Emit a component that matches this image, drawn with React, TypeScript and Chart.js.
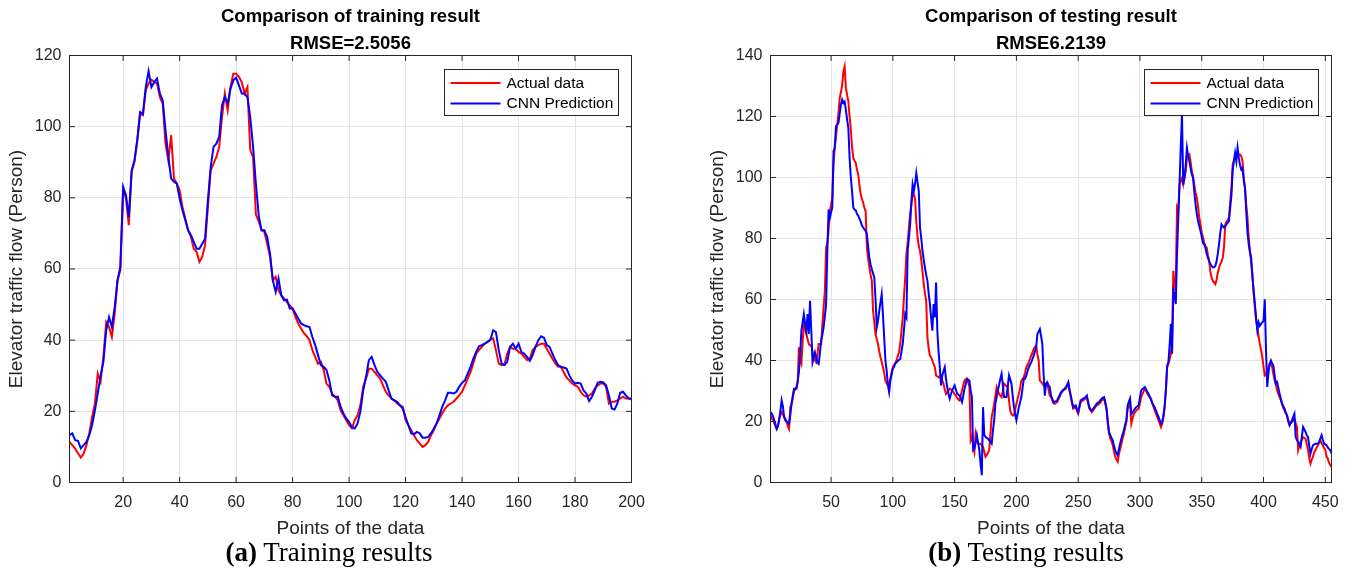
import React, { useEffect, useRef } from 'react';
import { Chart, registerables } from 'chart.js';

Chart.register(...registerables);

// ---------------- DATA ----------------
const seriesLabels = ['Actual data', 'CNN Prediction'];
const seriesColors = ['#ff0000', '#0000ff'];

const trainTitle = ['Comparison of training result', 'RMSE=2.5056'];
const testTitle = ['Comparison of testing result', 'RMSE6.2139'];
const xAxisTitle = 'Points of the data';
const yAxisTitle = 'Elevator traffic flow (Person)';

const trainXTicks = [20, 40, 60, 80, 100, 120, 140, 160, 180, 200];
const trainYTicks = [0, 20, 40, 60, 80, 100, 120];
const testXTicks = [50, 100, 150, 200, 250, 300, 350, 400, 450];
const testYTicks = [0, 20, 40, 60, 80, 100, 120, 140];

const trainActual = [
  11.4, 10.5, 9.5, 8.2, 7.0, 8.1, 10.5, 13.8, 18.4, 22.2,
  30.6, 28.3, 35.3, 45.1, 43.7, 40.9, 47.5, 56.8, 59.6, 82.1,
  79.8, 72.3, 87.3, 90.1, 96.2, 103.6, 103.2, 110.2, 112.1, 113.2,
  112.6, 112.1, 108.3, 106.5, 95.2, 90.5, 97.6, 85.4, 84.0, 82.1,
  77.4, 74.2, 70.9, 69.0, 65.7, 64.8, 62.0, 63.4, 66.7, 77.4,
  87.7, 89.6, 91.5, 94.3, 102.7, 109.3, 104.6, 111.1, 114.9, 114.9,
  114.0, 112.5, 109.3, 111.1, 93.4, 91.5, 75.3, 73.4, 70.9, 70.4,
  67.1, 63.4, 56.8, 57.8, 54.0, 52.6, 51.7, 50.7, 49.8, 48.9,
  46.5, 44.7, 43.3, 42.0, 41.1, 40.0, 37.2, 35.3, 33.4, 33.9,
  31.6, 27.8, 26.9, 25.0, 24.1, 23.1, 20.3, 18.9, 17.5, 16.1,
  15.2, 17.5, 18.9, 21.7, 26.9, 29.2, 32.0, 32.0, 31.1, 30.1,
  29.2, 27.3, 25.5, 24.5, 23.6, 23.1, 22.2, 21.7, 21.3, 17.5,
  16.1, 14.7, 13.3, 11.9, 11.0, 10.0, 10.5, 11.4, 13.3, 14.7,
  16.6, 18.0, 19.5, 20.8, 21.7, 22.2, 22.7, 23.6, 24.5, 25.5,
  27.3, 29.2, 31.0, 33.5, 36.2, 37.2, 38.1, 39.0, 39.5, 40.2,
  40.5, 37.2, 33.4, 33.0, 33.0, 36.2, 38.1, 37.6, 37.6, 36.7,
  36.2, 35.3, 34.4, 34.8, 37.2, 38.1, 38.6, 39.0, 39.0, 37.6,
  36.2, 34.8, 33.5, 32.5, 32.5, 31.0, 29.5, 28.7, 27.8, 27.3,
  26.9, 25.5, 24.5, 24.1, 24.5, 25.0, 26.4, 27.3, 27.8, 27.8,
  26.9, 22.2, 22.7, 22.7, 23.1, 23.6, 24.1, 23.6, 23.6, 23.3,
];

const trainPred = [
  13.3, 13.8, 11.9, 11.7, 9.6, 10.5, 11.4, 13.3, 16.1, 20.3,
  25.0, 30.1, 33.9, 42.8, 46.5, 43.7, 49.3, 56.8, 60.6, 83.1,
  80.7, 74.6, 87.7, 90.5, 96.2, 104.1, 103.6, 111.1, 115.6, 111.1,
  112.5, 113.5, 109.3, 107.4, 99.0, 91.5, 85.4, 84.5, 84.0, 79.8,
  76.5, 73.7, 70.9, 69.5, 67.6, 65.7, 65.7, 67.1, 68.5, 79.3,
  88.7, 94.3, 95.2, 97.1, 106.0, 108.3, 106.5, 110.7, 113.0, 113.8,
  111.6, 109.3, 109.3, 108.3, 102.7, 94.3, 84.0, 75.0, 70.9, 70.9,
  69.0, 64.3, 56.8, 53.6, 57.3, 52.6, 51.2, 51.4, 48.9, 48.9,
  47.5, 46.1, 44.7, 44.2, 43.9, 43.7, 40.9, 38.6, 35.8, 33.0,
  32.5, 31.6, 28.7, 24.5, 24.1, 24.1, 21.3, 19.4, 18.0, 17.0,
  15.6, 15.2, 16.6, 19.9, 25.9, 29.7, 34.4, 35.3, 33.0, 31.1,
  30.1, 29.2, 28.3, 25.9, 23.6, 23.1, 22.7, 21.7, 20.8, 18.4,
  16.1, 13.8, 13.6, 14.2, 13.8, 12.6, 12.6, 12.8, 13.8, 15.2,
  16.6, 18.9, 21.3, 23.1, 25.2, 25.2, 25.0, 25.5, 26.9, 28.0,
  28.7, 30.6, 32.5, 34.8, 36.7, 38.3, 38.6, 39.0, 39.5, 40.0,
  42.8, 42.3, 37.2, 33.4, 33.0, 33.9, 38.1, 39.0, 37.6, 39.0,
  36.7, 36.2, 35.3, 34.2, 35.8, 38.1, 40.0, 41.1, 40.7, 38.6,
  38.1, 36.2, 34.4, 33.0, 32.5, 32.3, 32.0, 30.1, 28.7, 27.8,
  28.0, 27.8, 25.9, 25.0, 22.9, 24.1, 25.9, 28.0, 28.3, 28.1,
  27.3, 24.5, 20.8, 20.5, 22.2, 25.2, 25.5, 24.5, 23.6, 23.6,
];

const testActual = [
  22.0, 21.0, 20.4, 19.5, 18.5, 17.6, 18.5, 21.0, 22.0, 23.1,
  22.5, 21.5, 20.9, 20.0, 18.5, 17.6, 24.7, 25.5, 27.5, 29.8,
  30.5, 31.3, 33.0, 44.3, 40.0, 38.9, 46.0, 52.0, 50.5, 48.7,
  47.0, 45.4, 45.0, 44.9, 43.0, 41.1, 40.0, 39.4, 42.0, 45.4,
  45.4, 45.4, 52.0, 57.4, 62.9, 77.0, 78.5, 82.5, 89.0, 91.0,
  93.4, 104.2, 109.7, 113.5, 117.3, 121.0, 126.0, 128.0, 130.4, 134.7,
  136.4, 129.3, 127.0, 125.0, 120.0, 115.7, 110.0, 106.4, 105.5, 104.8,
  102.5, 101.0, 97.5, 94.4, 93.0, 91.7, 90.0, 89.0, 77.0, 73.5,
  70.5, 68.0, 66.1, 56.3, 52.5, 48.7, 47.0, 45.4, 43.0, 41.1,
  39.5, 37.8, 36.0, 33.4, 32.5, 31.8, 32.8, 34.0, 36.0, 37.8,
  38.5, 39.2, 40.0, 41.5, 42.7, 45.5, 49.8, 54.0, 60.7, 67.0,
  74.8, 78.5, 83.6, 87.9, 91.0, 94.4, 94.4, 93.0, 85.5, 80.5,
  77.5, 75.9, 73.0, 69.4, 65.0, 62.0, 59.6, 47.6, 44.0, 41.6,
  41.0, 40.0, 38.9, 37.8, 35.1, 34.8, 34.5, 34.8, 35.1, 33.5,
  32.4, 30.5, 29.1, 29.5, 30.2, 30.7, 30.5, 30.2, 29.6, 29.0,
  28.5, 27.8, 27.2, 26.9, 28.5, 30.2, 32.0, 33.4, 33.8, 34.0,
  32.8, 31.3, 13.8, 14.9, 12.0, 10.0, 16.0, 14.0, 12.7, 12.7,
  12.7, 12.2, 11.7, 10.0, 8.4, 9.0, 9.8, 10.6, 16.0, 21.5,
  23.5, 25.8, 28.5, 31.3, 30.2, 29.1, 28.5, 28.0, 30.0, 32.4,
  32.0, 31.6, 31.3, 27.0, 23.5, 22.5, 22.0, 22.0, 24.0, 25.8,
  27.5, 29.1, 31.0, 33.4, 34.0, 34.5, 36.0, 37.8, 38.6, 39.4,
  40.5, 41.6, 42.7, 43.8, 44.5, 44.9, 42.0, 40.0, 33.4, 33.0,
  32.4, 31.8, 31.3, 31.8, 32.4, 30.5, 28.5, 28.0, 27.0, 26.0,
  25.8, 26.1, 26.4, 27.3, 28.2, 29.1, 29.7, 30.2, 30.5, 30.7,
  31.5, 32.4, 30.0, 28.0, 26.0, 24.2, 24.5, 24.7, 23.5, 22.5,
  24.5, 26.4, 26.7, 26.9, 27.2, 27.5, 28.0, 26.0, 24.2, 23.6,
  23.1, 23.6, 24.2, 24.8, 25.3, 25.5, 25.8, 26.3, 26.9, 27.2,
  27.5, 26.0, 23.6, 19.0, 16.0, 14.4, 13.5, 12.2, 10.0, 8.4,
  7.5, 6.8, 9.5, 11.0, 12.7, 14.5, 16.0, 18.0, 19.8, 24.2,
  25.0, 25.8, 19.3, 21.0, 22.5, 23.0, 23.6, 24.0, 24.2, 26.0,
  28.0, 29.0, 30.0, 30.7, 30.0, 29.1, 28.5, 28.0, 27.5, 26.0,
  24.7, 23.5, 22.5, 21.5, 20.4, 19.3, 18.2, 19.3, 21.5, 25.0,
  30.2, 37.8, 38.9, 40.5, 42.2, 46.5, 69.4, 63.0, 66.1, 90.1,
  89.0, 97.7, 99.0, 99.9, 97.7, 99.9, 102.0, 106.4, 107.0, 107.5,
  105.0, 102.0, 99.9, 97.5, 95.0, 93.4, 90.5, 86.8, 84.5, 82.0,
  80.3, 78.5, 77.5, 77.0, 74.5, 72.7, 69.0, 67.2, 66.0, 65.6,
  65.0, 66.5, 68.8, 70.5, 71.6, 72.5, 73.7, 77.0, 84.6, 85.5,
  86.0, 86.8, 92.0, 96.6, 104.2, 105.5, 106.4, 107.0, 107.5, 107.5,
  107.5, 107.0, 105.3, 100.0, 96.6, 91.0, 86.8, 80.5, 75.9, 72.0,
  68.3, 62.0, 57.4, 53.0, 50.9, 48.0, 45.4, 43.5, 41.1, 38.0,
  35.1, 35.5, 36.7, 38.0, 38.9, 38.5, 37.8, 35.5, 33.4, 32.0,
  30.2, 29.0, 28.0, 27.0, 25.8, 24.5, 23.6, 22.5, 22.0, 20.5,
  19.3, 19.5, 19.8, 20.3, 20.9, 19.5, 18.2, 10.6, 12.0, 13.3,
  14.0, 14.9, 14.6, 14.4, 12.5, 10.6, 8.0, 6.2, 7.5, 8.4,
  10.0, 10.6, 11.5, 12.2, 13.0, 13.8, 12.8, 12.2, 11.3, 10.6,
  8.5, 7.8, 6.5, 5.7, 5.1,
];

const testPred = [
  23.1, 22.5, 21.8, 20.5, 19.0, 17.6, 18.5, 20.5, 23.5, 26.9,
  25.0, 21.5, 20.4, 20.0, 19.6, 19.3, 22.0, 25.8, 28.5, 30.7,
  30.7, 30.7, 33.0, 36.2, 42.0, 49.8, 52.5, 55.2, 52.0, 49.8,
  55.2, 48.7, 59.6, 50.0, 39.4, 41.0, 42.7, 41.0, 39.4, 38.9,
  42.5, 46.5, 48.5, 50.9, 54.5, 58.5, 75.9, 89.5, 86.8, 88.5,
  90.1, 108.6, 109.7, 116.8, 117.3, 117.9, 121.0, 123.9, 125.5, 124.4,
  124.9, 122.2, 119.0, 116.2, 106.4, 100.0, 95.5, 90.1, 89.5, 89.2,
  88.0, 87.5, 86.5, 85.5, 84.2, 83.6, 83.0, 82.5, 81.4, 77.5,
  73.7, 71.5, 69.9, 68.5, 67.2, 60.0, 50.9, 53.0, 56.3, 59.0,
  61.8, 55.0, 47.6, 40.0, 36.7, 32.0, 29.6, 33.4, 35.5, 37.3,
  38.0, 39.0, 39.4, 39.8, 40.2, 40.5, 43.0, 45.4, 50.0, 55.2,
  54.1, 75.9, 80.0, 84.6, 92.0, 97.7, 95.5, 98.0, 101.5, 98.5,
  95.5, 83.6, 80.0, 75.9, 73.0, 70.5, 68.0, 66.1, 62.0, 58.5,
  54.0, 49.8, 58.5, 54.1, 65.6, 49.8, 43.0, 37.8, 31.8, 35.1,
  36.5, 37.8, 34.0, 31.3, 29.0, 27.5, 29.0, 30.2, 31.0, 31.8,
  30.5, 29.1, 28.8, 28.5, 27.5, 26.4, 28.5, 30.7, 32.3, 34.0,
  33.7, 33.4, 30.0, 28.0, 10.6, 11.1, 13.0, 15.5, 13.0, 10.6,
  6.0, 2.4, 24.7, 15.5, 15.0, 14.6, 14.4, 13.8, 13.2, 12.7,
  17.0, 20.4, 25.8, 28.0, 30.2, 32.0, 34.0, 35.6, 32.0, 28.0,
  28.0, 28.0, 31.5, 35.1, 33.8, 32.4, 28.5, 24.7, 22.5, 20.4,
  22.5, 24.7, 26.3, 28.0, 31.0, 34.0, 34.0, 35.0, 36.5, 37.8,
  38.6, 39.4, 40.5, 41.6, 43.0, 44.3, 48.7, 49.5, 50.3, 48.0,
  45.4, 35.6, 28.5, 32.4, 32.9, 31.8, 31.3, 28.5, 27.5, 26.4,
  26.5, 26.7, 26.9, 27.8, 28.6, 29.5, 30.0, 30.5, 30.7, 31.3,
  32.0, 32.9, 30.5, 28.5, 26.5, 24.7, 25.0, 25.3, 24.0, 23.1,
  25.0, 26.9, 27.2, 27.5, 27.7, 28.0, 28.5, 26.5, 24.7, 24.0,
  23.6, 24.0, 24.7, 25.2, 25.8, 26.1, 26.4, 27.0, 27.5, 27.8,
  28.0, 26.0, 24.2, 20.0, 16.5, 15.5, 14.5, 13.8, 12.0, 10.6,
  9.5, 8.9, 11.1, 12.8, 14.4, 16.0, 17.1, 19.0, 20.4, 25.3,
  26.5, 27.5, 22.5, 23.0, 23.6, 24.2, 24.7, 25.0, 25.3, 28.0,
  30.2, 30.7, 31.0, 31.3, 30.5, 29.7, 29.0, 28.0, 27.0, 26.0,
  25.3, 24.5, 23.6, 22.5, 21.5, 20.5, 19.3, 19.8, 22.0, 25.0,
  30.7, 38.3, 39.4, 45.0, 52.0, 42.2, 62.9, 61.8, 58.5, 75.0,
  86.8, 97.7, 110.0, 120.6, 97.7, 99.9, 104.0, 109.7, 107.0, 105.3,
  103.0, 101.0, 99.9, 95.0, 91.2, 88.0, 85.7, 84.0, 82.5, 80.5,
  78.6, 78.0, 77.0, 75.0, 73.7, 72.5, 71.6, 71.0, 70.5, 70.6,
  71.0, 72.5, 75.0, 78.1, 81.9, 84.6, 84.0, 83.6, 84.0, 84.6,
  85.2, 85.7, 90.0, 94.0, 102.1, 105.5, 108.1, 105.3, 109.7, 106.4,
  104.0, 102.6, 103.1, 99.0, 96.6, 89.0, 82.0, 78.1, 75.5, 73.7,
  67.2, 63.0, 58.5, 54.0, 49.8, 52.5, 51.4, 52.0, 52.5, 53.0,
  60.1, 43.2, 31.3, 36.0, 38.9, 40.0, 39.0, 38.3, 35.0, 32.4,
  32.9, 31.0, 29.1, 27.5, 25.8, 25.0, 24.2, 23.0, 22.0, 20.0,
  18.7, 19.5, 20.4, 21.5, 22.5, 14.9, 14.0, 13.3, 12.5, 11.7,
  15.0, 18.2, 17.4, 16.6, 15.5, 14.9, 12.0, 9.5, 11.0, 12.2,
  12.5, 12.7, 12.7, 12.7, 13.3, 14.5, 15.5, 14.0, 12.7, 12.5,
  12.2, 11.5, 11.0, 10.6, 9.5,
];

// ---------------- STYLE ----------------
const FONT = '"Liberation Sans", Arial, Helvetica, sans-serif';
const SERIF = '"Liberation Serif", "Times New Roman", Times, serif';
const AXIS_COLOR = '#262626';
const GRID_COLOR = '#e4e4e4';
const CANVAS_H = 540;

const framePlugin = {
  id: 'matlabFrame',
  afterDatasetsDraw(chart: any) {
    const { ctx, chartArea: a, scales } = chart;
    const tl = 5.5;
    ctx.save();
    ctx.strokeStyle = AXIS_COLOR;
    ctx.lineWidth = 1;
    ctx.beginPath();
    scales.x.ticks.forEach((t: any) => {
      const px = scales.x.getPixelForValue(t.value);
      ctx.moveTo(px, a.bottom);
      ctx.lineTo(px, a.bottom - tl);
      ctx.moveTo(px, a.top);
      ctx.lineTo(px, a.top + tl);
    });
    scales.y.ticks.forEach((t: any) => {
      const py = scales.y.getPixelForValue(t.value);
      ctx.moveTo(a.left, py);
      ctx.lineTo(a.left + tl, py);
      ctx.moveTo(a.right, py);
      ctx.lineTo(a.right - tl, py);
    });
    ctx.stroke();
    ctx.strokeRect(a.left, a.top, a.right - a.left, a.bottom - a.top);
    ctx.restore();
  },
};

const legendPlugin = {
  id: 'boxLegend',
  afterDraw(chart: any) {
    const { ctx, chartArea: a } = chart;
    const ds = chart.data.datasets;
    ctx.save();
    ctx.font = `15.5px ${FONT}`;
    const textW = Math.max(...ds.map((d: any) => ctx.measureText(d.label).width));
    const boxW = Math.round(62 + textW + 5);
    const boxH = 46;
    const right = Math.round(a.right - 14) + 0.5;
    const left = right - boxW;
    const top = Math.round(a.top + 14) + 0.5;
    ctx.fillStyle = '#ffffff';
    ctx.fillRect(left, top, boxW, boxH);
    ctx.strokeStyle = AXIS_COLOR;
    ctx.lineWidth = 1;
    ctx.strokeRect(left, top, boxW, boxH);
    ds.forEach((d: any, k: number) => {
      const y = top + 13.5 + k * 20.5;
      ctx.strokeStyle = d.borderColor;
      ctx.lineWidth = 2;
      ctx.beginPath();
      ctx.moveTo(left + 6, y);
      ctx.lineTo(left + 56, y);
      ctx.stroke();
      ctx.fillStyle = '#000000';
      ctx.textAlign = 'left';
      ctx.textBaseline = 'middle';
      ctx.fillText(d.label, left + 62, y + 0.5);
    });
    ctx.restore();
  },
};

type PanelProps = {
  left: number;
  width: number;
  padRight: number;
  title: string[];
  actual: number[];
  pred: number[];
  xTicks: number[];
  yTicks: number[];
};

function Panel({ left, width, padRight, title, actual, pred, xTicks, yTicks }: PanelProps) {
  const ref = useRef<HTMLCanvasElement>(null);

  useEffect(() => {
    if (!ref.current) return;
    const toPoints = (arr: number[]) => arr.map((v, i) => ({ x: i + 1, y: v }));
    const chart = new Chart(ref.current, {
      type: 'line',
      data: {
        datasets: [
          {
            label: seriesLabels[0],
            data: toPoints(actual),
            borderColor: seriesColors[0],
            backgroundColor: seriesColors[0],
            borderWidth: 2,
            pointRadius: 0,
            tension: 0,
            order: 1,
          },
          {
            label: seriesLabels[1],
            data: toPoints(pred),
            borderColor: seriesColors[1],
            backgroundColor: seriesColors[1],
            borderWidth: 2,
            pointRadius: 0,
            tension: 0,
            order: 0,
          },
        ],
      },
      options: {
        responsive: false,
        animation: false,
        devicePixelRatio: 1,
        events: [],
        layout: { padding: { left: 0, right: padRight, top: 0, bottom: 0 } },
        plugins: {
          legend: { display: false },
          tooltip: { enabled: false },
          title: {
            display: true,
            text: title,
            fullSize: false,
            color: '#000000',
            font: { family: FONT, size: 18.5, weight: 'bold', lineHeight: 1.443 },
            padding: { top: 3.5, bottom: -1.4 },
          },
        },
        scales: {
          x: {
            type: 'linear',
            min: 1,
            max: actual.length,
            afterBuildTicks: (s: any) => {
              s.ticks = xTicks.map((v) => ({ value: v }));
            },
            afterFit: (s: any) => {
              s.height = 57.5;
            },
            grid: { color: GRID_COLOR, drawTicks: false, lineWidth: 1 },
            border: { display: false },
            ticks: {
              autoSkip: false,
              maxRotation: 0,
              padding: 10.5,
              color: AXIS_COLOR,
              font: { family: FONT, size: 16 },
            },
            title: {
              display: true,
              text: xAxisTitle,
              color: AXIS_COLOR,
              font: { family: FONT, size: 19 },
              padding: { top: 3, bottom: 0 },
            },
          },
          y: {
            type: 'linear',
            min: yTicks[0],
            max: yTicks[yTicks.length - 1],
            afterBuildTicks: (s: any) => {
              s.ticks = yTicks.map((v) => ({ value: v }));
            },
            afterFit: (s: any) => {
              s.width = 69.5;
            },
            grid: { color: GRID_COLOR, drawTicks: false, lineWidth: 1 },
            border: { display: false },
            ticks: {
              autoSkip: false,
              padding: 8,
              color: AXIS_COLOR,
              font: { family: FONT, size: 16 },
            },
            title: {
              display: true,
              text: yAxisTitle,
              color: AXIS_COLOR,
              font: { family: FONT, size: 19 },
              padding: { top: 5.6, bottom: 0 },
            },
          },
        },
      } as any,
      plugins: [framePlugin, legendPlugin],
    });
    return () => chart.destroy();
  }, []);

  return (
    <canvas
      ref={ref}
      width={width}
      height={CANVAS_H}
      style={{ position: 'absolute', left, top: 0, width, height: CANVAS_H, display: 'block' }}
    />
  );
}

function Caption({ center, tag, text }: { center: number; tag: string; text: string }) {
  return (
    <div
      style={{
        position: 'absolute',
        left: center,
        top: 539,
        transform: 'translateX(-50%)',
        whiteSpace: 'nowrap',
        fontFamily: SERIF,
        fontSize: 27,
        lineHeight: '27px',
        color: '#000',
      }}
    >
      <b>{tag}</b> {text}
    </div>
  );
}

export default function App() {
  return (
    <div
      style={{
        position: 'absolute',
        left: 0,
        top: 0,
        width: 1352,
        height: 569,
        overflow: 'hidden',
        background: '#ffffff',
      }}
    >
      <Panel
        left={0}
        width={676}
        padRight={44.5}
        title={trainTitle}
        actual={trainActual}
        pred={trainPred}
        xTicks={trainXTicks}
        yTicks={trainYTicks}
      />
      <Panel
        left={701}
        width={651}
        padRight={20.5}
        title={testTitle}
        actual={testActual}
        pred={testPred}
        xTicks={testXTicks}
        yTicks={testYTicks}
      />
      <Caption center={329} tag="(a)" text="Training results" />
      <Caption center={1026} tag="(b)" text="Testing results" />
    </div>
  );
}
